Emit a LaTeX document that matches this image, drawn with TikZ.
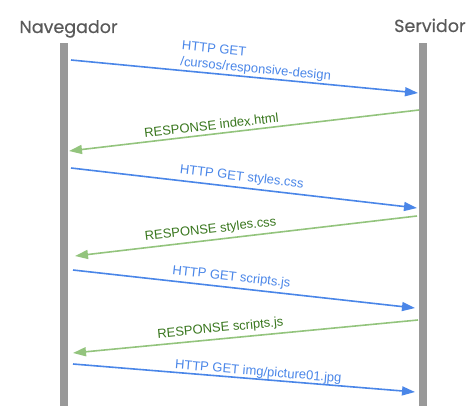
\documentclass[tikz,border=0pt]{standalone}
\usepackage{fontspec}
\setmainfont{Liberation Sans}
\newfontfamily\titlefont[UprightFeatures={FakeBold=0.35}]{Poppins}
\usetikzlibrary{arrows.meta}
\definecolor{reqblue}{HTML}{4A86E8}
\definecolor{resgreen}{HTML}{93C47D}
\definecolor{resgreentext}{HTML}{38761D}
\definecolor{bargray}{HTML}{999999}
\definecolor{titlegray}{HTML}{595959}

\begin{document}
\begin{tikzpicture}[x=1pt,y=-1pt,
    lifeline/.style={fill=bargray, draw=none, minimum width=8pt, minimum height=363pt, inner sep=0pt},
    actor/.style={text=titlegray, inner sep=0pt, font=\titlefont\fontsize{17.5}{19}\selectfont},
    req/.style={reqblue, line width=1.6pt, -{Triangle[length=13pt,width=9pt]}},
    res/.style={resgreen, line width=1.6pt, -{Triangle[length=13pt,width=9pt]}},
    reqtext/.style={text=reqblue, font=\fontsize{13}{16}\selectfont, sloped, above},
    restext/.style={text=resgreentext, font=\fontsize{13}{16}\selectfont, sloped, above}]
    \useasboundingbox (0,0) rectangle (476,412);
    % lifelines
    \node[lifeline] (navbar) at (64,224.5) {};
    \node[lifeline] (srvbar) at (423,224.5) {};
    \node[actor, anchor=base] (nav) at (68.5,33) {Navegador};
    \node[actor, anchor=base west] (srv) at (394,32) {Servidor};
    % message ends
    \coordinate (q1) at (71,60);   \coordinate (q1e) at (418,93);
    \coordinate (r1) at (419,110); \coordinate (r1e) at (69,151);
    \coordinate (q2) at (71,168);  \coordinate (q2e) at (417,208);
    \coordinate (r2) at (417,216); \coordinate (r2e) at (75,256);
    \coordinate (q3) at (73,270);  \coordinate (q3e) at (415,308);
    \coordinate (r3) at (418,320); \coordinate (r3e) at (73,353);
    \coordinate (q4) at (73,364);  \coordinate (q4e) at (415,392);
    % messages
    \draw[req] (q1)--node[reqtext, align=left, pos=0.53, inner sep=1pt]{HTTP GET\\/cursos/responsive-design}(q1e);
    \draw[res] (r1)--node[restext, pos=0.59]{RESPONSE index.html}(r1e);
    \draw[req] (q2)--node[reqtext, pos=0.49]{HTTP GET styles.css}(q2e);
    \draw[res] (r2)--node[restext, pos=0.6]{RESPONSE styles.css}(r2e);
    \draw[req] (q3)--node[reqtext, pos=0.46]{HTTP GET scripts.js}(q3e);
    \draw[res] (r3)--node[restext, pos=0.57]{RESPONSE scripts.js}(r3e);
    \draw[req] (q4)--node[reqtext, pos=0.54, inner sep=0pt]{HTTP GET img/picture01.jpg}(q4e);
\end{tikzpicture}
\end{document}
